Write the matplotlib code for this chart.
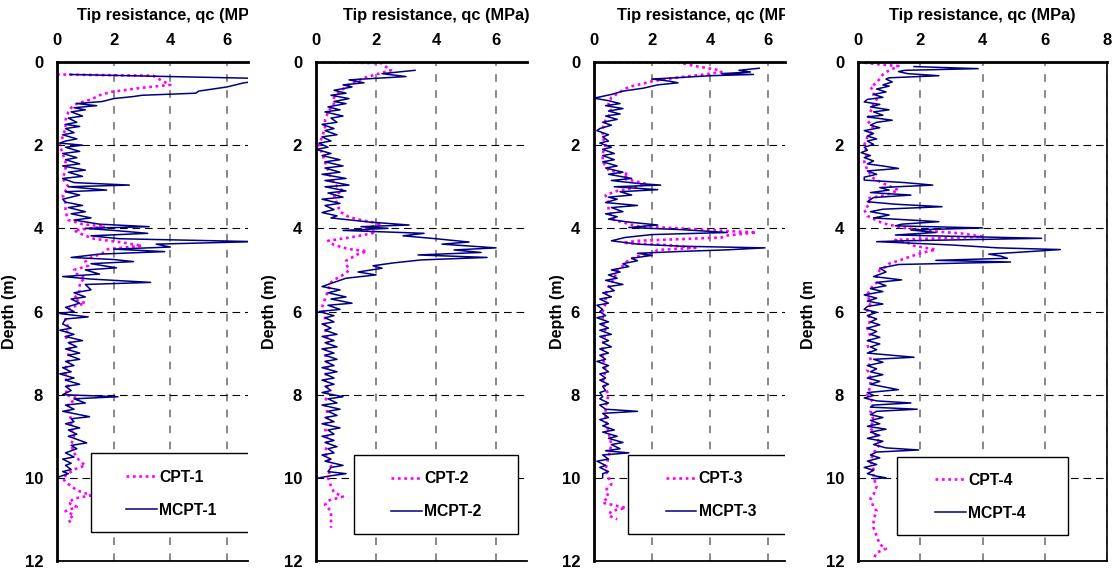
import numpy as np
import matplotlib
matplotlib.use("Agg")
import matplotlib.pyplot as plt
from matplotlib.patches import Rectangle
from matplotlib.transforms import Bbox, TransformedBbox, blended_transform_factory

plt.rcParams['font.family'] = ['Liberation Sans', 'DejaVu Sans']
plt.rcParams['font.weight'] = 'bold'
plt.rcParams['lines.scale_dashes'] = False

# ---- data (depth in m, tip resistance qc in MPa) ----
mcpt1_depth = [0.30, 0.40, 0.45, 0.50, 0.60, 0.70, 0.75, 0.80, 0.83, 0.88, 0.95, 1.00, 1.05, 1.10, 1.15, 1.20,
               1.30, 1.35, 1.45, 1.50, 1.55, 1.60, 1.70, 1.75, 1.85, 1.90, 1.95, 2.00, 2.05, 2.15, 2.20, 2.30,
               2.35, 2.45, 2.50, 2.60, 2.65, 2.75, 2.80, 2.90, 2.96, 3.00, 3.08, 3.12, 3.20, 3.30, 3.37, 3.45,
               3.50, 3.60, 3.65, 3.75, 3.80, 3.90, 3.96, 4.00, 4.05, 4.12, 4.18, 4.25, 4.32, 4.38, 4.45, 4.50,
               4.56, 4.62, 4.70, 4.75, 4.80, 4.85, 4.95, 5.00, 5.10, 5.16, 5.22, 5.30, 5.35, 5.48, 5.55, 5.65,
               5.70, 5.80, 5.90, 6.00, 6.05, 6.13, 6.18, 6.30, 6.40, 6.45, 6.55, 6.60, 6.70, 6.75, 6.85, 6.90,
               7.00, 7.05, 7.15, 7.20, 7.30, 7.35, 7.45, 7.50, 7.60, 7.65, 7.75, 7.80, 7.90, 8.00, 8.05, 8.10,
               8.20, 8.25, 8.35, 8.40, 8.53, 8.58, 8.65, 8.70, 8.80, 8.85, 8.95, 9.00, 9.10, 9.16, 9.22, 9.30,
               9.40, 9.50, 9.55, 9.65, 9.70, 9.80, 9.85, 9.90, 9.98]
mcpt1_qc = [0.45, 7.5, 7.2, 6.6, 6.0, 5.0, 4.9, 3.0, 2.7, 2.0, 1.6, 0.7, 1.4, 0.6, 1.0, 0.5,
            0.9, 0.4, 0.7, 0.3, 0.8, 0.3, 0.6, 0.2, 0.7, 0.3, 0.1, 0.9, 0.3, 0.8, 0.2, 0.7,
            0.3, 0.8, 0.2, 1.0, 0.4, 0.9, 0.2, 0.6, 2.55, 0.4, 1.75, 0.3, 0.8, 0.2, 0.3, 0.9,
            0.4, 1.0, 0.5, 1.2, 0.6, 1.5, 3.25, 1.0, 2.0, 3.2, 1.2, 2.2, 7.0, 3.5, 4.0, 2.0,
            3.8, 1.5, 0.5, 2.0, 2.7, 1.2, 2.1, 1.0, 1.5, 0.2, 1.2, 3.3, 1.0, 1.2, 0.6, 1.0,
            0.5, 0.8, 0.3, 0.6, 0.1, 1.1, 0.3, 0.2, 0.5, 0.1, 0.6, 0.3, 0.9, 0.4, 0.7, 0.3,
            0.8, 0.4, 0.8, 0.3, 0.6, 0.2, 0.5, 0.1, 0.6, 0.3, 0.8, 0.3, 0.5, 0.2, 2.15, 0.6,
            1.0, 0.3, 0.6, 0.2, 1.15, 0.5, 0.6, 0.3, 0.8, 0.4, 0.7, 0.4, 0.8, 1.05, 0.5, 0.7,
            0.3, 0.6, 0.2, 0.5, 0.3, 0.5, 0.2, 0.4, 0.05]

cpt1_depth = [0.30, 0.33, 0.45, 0.55, 0.62, 0.72, 0.80, 0.90, 1.00, 1.10, 1.20, 1.40, 1.60, 1.80, 2.00, 2.20,
              2.40, 2.60, 2.80, 3.00, 3.20, 3.40, 3.60, 3.80, 3.90, 3.96, 4.05, 4.15, 4.25, 4.35, 4.42, 4.50,
              4.60, 4.70, 4.80, 4.90, 5.00, 5.10, 5.20, 5.30, 5.50, 5.70, 5.80, 5.90, 6.00, 6.20, 6.40, 6.60,
              6.80, 7.00, 7.20, 7.40, 7.60, 7.80, 8.00, 8.10, 8.20, 8.40, 8.60, 8.80, 9.00, 9.20, 9.40, 9.60,
              9.70, 9.80, 9.90, 10.00, 10.10, 10.20, 10.30, 10.42, 10.50, 10.60, 10.70, 10.80, 10.90, 11.00,
              11.10]
cpt1_qc = [0.0, 3.4, 3.7, 4.0, 3.0, 1.9, 1.5, 1.2, 0.7, 0.5, 0.4, 0.3, 0.3, 0.2, 0.1, 0.2,
           0.3, 0.3, 0.2, 0.4, 0.2, 0.3, 0.3, 0.4, 0.9, 1.7, 0.6, 0.9, 1.3, 2.4, 3.0, 1.8,
           1.6, 1.2, 1.0, 1.1, 0.6, 0.7, 1.0, 0.8, 0.8, 0.6, 1.0, 0.5, 0.3, 0.3, 0.4, 0.3,
           0.5, 0.4, 0.4, 0.3, 0.3, 0.4, 0.3, 0.8, 0.4, 0.4, 0.5, 0.5, 0.6, 0.5, 0.6, 0.8,
           1.0, 0.6, 0.4, 0.2, 0.3, 0.5, 0.7, 1.2, 0.6, 0.4, 0.7, 0.3, 0.6, 0.4,
           0.5]

mcpt2_depth = [0.20, 0.28, 0.35, 0.43, 0.50, 0.55, 0.60, 0.68, 0.75, 0.80, 0.88, 0.95, 1.00, 1.08, 1.15, 1.20,
               1.30, 1.35, 1.45, 1.50, 1.60, 1.65, 1.75, 1.80, 1.90, 1.95, 2.05, 2.10, 2.20, 2.25, 2.35, 2.40,
               2.50, 2.55, 2.65, 2.70, 2.80, 2.85, 2.96, 3.00, 3.10, 3.15, 3.25, 3.30, 3.40, 3.45, 3.55, 3.62,
               3.70, 3.75, 3.85, 3.92, 3.96, 4.00, 4.05, 4.12, 4.18, 4.25, 4.33, 4.38, 4.47, 4.52, 4.58, 4.64,
               4.70, 4.76, 4.83, 4.90, 4.96, 5.05, 5.12, 5.20, 5.30, 5.40, 5.48, 5.55, 5.65, 5.70, 5.80, 5.85,
               5.95, 6.00, 6.10, 6.15, 6.25, 6.30, 6.40, 6.45, 6.55, 6.60, 6.70, 6.75, 6.85, 6.90, 7.00, 7.05,
               7.15, 7.20, 7.30, 7.35, 7.45, 7.50, 7.60, 7.65, 7.75, 7.80, 7.90, 7.95, 8.05, 8.10, 8.20, 8.25,
               8.35, 8.40, 8.50, 8.55, 8.65, 8.70, 8.80, 8.85, 8.95, 9.00, 9.10, 9.15, 9.25, 9.30, 9.40, 9.45,
               9.55, 9.60, 9.70, 9.75, 9.85, 9.90, 9.95, 10.00]
mcpt2_qc = [3.3, 2.2, 3.0, 1.1, 1.6, 0.9, 1.2, 0.6, 1.0, 0.5, 1.1, 0.6, 1.0, 0.4, 0.8, 0.3,
            0.9, 0.5, 0.7, 0.2, 0.6, 0.3, 0.7, 0.2, 0.5, 0.1, 0.4, 0.0, 0.5, 0.2, 0.8, 0.3,
            0.9, 0.3, 0.8, 0.2, 1.0, 0.3, 1.1, 0.3, 1.0, 0.4, 0.9, 0.2, 0.8, 0.3, 0.6, 0.2,
            0.7, 0.5, 1.8, 3.1, 1.5, 2.4, 0.9, 3.6, 2.9, 4.0, 5.1, 4.2, 6.0, 4.6, 5.5, 3.4,
            5.7, 3.5, 2.6, 1.9, 2.2, 1.4, 2.0, 1.0, 0.6, 0.2, 0.8, 0.4, 1.0, 0.5, 1.2, 0.4,
            0.8, 0.1, 0.6, 0.3, 0.6, 0.2, 0.5, 0.3, 0.7, 0.2, 0.6, 0.3, 0.7, 0.2, 0.6, 0.3,
            0.7, 0.3, 0.6, 0.2, 0.7, 0.3, 0.6, 0.2, 0.6, 0.3, 0.5, 0.2, 0.9, 0.4, 0.7, 0.2,
            0.8, 0.4, 0.7, 0.3, 0.6, 0.2, 0.8, 0.4, 0.6, 0.2, 0.6, 0.3, 0.7, 0.4, 0.6, 0.2,
            0.5, 0.3, 0.9, 0.5, 0.4, 1.0, 0.5, 0.1]

cpt2_depth = [0.00, 0.03, 0.10, 0.20, 0.30, 0.38, 0.45, 0.55, 0.70, 0.85, 1.00, 1.20, 1.40, 1.60, 1.80, 2.00,
              2.20, 2.40, 2.60, 2.80, 3.00, 3.10, 3.20, 3.40, 3.60, 3.73, 3.80, 3.90, 4.00, 4.10, 4.20, 4.30,
              4.40, 4.50, 4.55, 4.62, 4.70, 4.78, 4.85, 5.00, 5.08, 5.20, 5.30, 5.50, 5.70, 5.90, 6.10, 6.40,
              6.70, 7.00, 7.30, 7.60, 7.90, 8.20, 8.50, 8.80, 9.10, 9.40, 9.70, 10.00, 10.20, 10.35, 10.45,
              10.55, 10.65, 10.80, 11.00, 11.20]
cpt2_qc = [0.0, 2.2, 2.3, 2.5, 2.0, 1.6, 1.4, 1.1, 0.8, 0.6, 0.6, 0.4, 0.3, 0.3, 0.2, 0.1,
           0.2, 0.3, 0.4, 0.5, 0.7, 0.9, 0.6, 0.7, 0.8, 1.1, 1.5, 2.2, 1.6, 2.0, 1.3, 0.4,
           0.6, 1.1, 1.7, 1.4, 1.2, 1.0, 1.0, 1.1, 1.0, 0.7, 0.5, 0.4, 0.3, 0.2, 0.3, 0.3,
           0.4, 0.3, 0.4, 0.3, 0.4, 0.3, 0.4, 0.3, 0.4, 0.3, 0.5, 0.4, 0.5, 0.6, 0.9,
           0.4, 0.3, 0.5, 0.5, 0.5]

mcpt3_depth = [0.15, 0.20, 0.24, 0.28, 0.30, 0.33, 0.38, 0.41, 0.46, 0.50, 0.55, 0.63, 0.70, 0.78, 0.87, 0.93,
               1.00, 1.05, 1.12, 1.18, 1.25, 1.30, 1.38, 1.45, 1.52, 1.60, 1.65, 1.75, 1.80, 1.90, 1.95, 2.05,
               2.10, 2.20, 2.25, 2.35, 2.40, 2.50, 2.55, 2.65, 2.70, 2.80, 2.85, 2.92, 2.96, 3.00, 3.07, 3.12,
               3.20, 3.25, 3.30, 3.38, 3.45, 3.50, 3.60, 3.65, 3.72, 3.78, 3.85, 3.92, 3.98, 4.03, 4.10, 4.15,
               4.22, 4.30, 4.38, 4.43, 4.47, 4.52, 4.55, 4.60, 4.65, 4.72, 4.78, 4.85, 4.92, 5.00, 5.05, 5.12,
               5.20, 5.25, 5.35, 5.40, 5.50, 5.55, 5.65, 5.70, 5.80, 5.85, 5.95, 6.00, 6.10, 6.15, 6.25, 6.30,
               6.40, 6.45, 6.55, 6.60, 6.70, 6.75, 6.85, 6.90, 7.00, 7.05, 7.15, 7.20, 7.30, 7.35, 7.45, 7.50,
               7.60, 7.65, 7.75, 7.80, 7.90, 7.95, 8.05, 8.10, 8.20, 8.25, 8.35, 8.40, 8.45, 8.55, 8.60, 8.70,
               8.75, 8.85, 8.90, 9.00, 9.05, 9.15, 9.20, 9.30, 9.35, 9.40, 9.45, 9.55, 9.60, 9.70, 9.75, 9.85,
               9.90, 10.00]
mcpt3_qc = [5.7, 5.0, 5.4, 4.4, 5.5, 4.0, 2.8, 2.0, 2.6, 2.9, 2.2, 1.7, 1.0, 0.6, 0.0, 0.5,
            0.9, 0.4, 1.0, 0.5, 0.9, 0.4, 0.8, 0.3, 0.6, 0.2, 0.1, 0.5, 0.3, 0.5, 0.2, 0.6,
            0.3, 0.7, 0.3, 0.7, 0.3, 0.8, 0.4, 1.0, 0.5, 1.3, 0.6, 1.5, 2.3, 0.7, 2.2, 0.9,
            1.3, 0.5, 0.8, 0.4, 1.5, 0.6, 1.0, 0.4, 0.8, 0.5, 1.2, 2.2, 1.2, 3.0, 4.6, 2.0,
            1.07, 0.6, 1.5, 3.0, 5.9, 4.5, 3.2, 1.5, 2.0, 1.3, 1.5, 1.0, 1.2, 0.6, 0.9, 0.5,
            0.8, 0.4, 1.0, 0.5, 0.7, 0.3, 0.6, 0.2, 0.5, 0.1, 0.3, 0.2, 0.4, 0.1, 0.5, 0.2,
            0.5, 0.2, 0.6, 0.2, 0.5, 0.3, 0.6, 0.2, 0.5, 0.2, 0.4, 0.1, 0.5, 0.3, 0.5, 0.2,
            0.4, 0.2, 0.5, 0.3, 0.4, 0.2, 0.3, 0.2, 0.5, 0.2, 0.4, 1.5, 0.3, 0.5, 0.2, 0.5,
            0.3, 0.7, 0.3, 0.8, 0.5, 1.0, 0.6, 0.9, 0.4, 1.2, 0.3, 0.5, 0.1, 0.4, 0.2, 0.5,
            0.3, 0.3]

cpt3_depth = [0.00, 0.02, 0.10, 0.18, 0.24, 0.30, 0.38, 0.45, 0.50, 0.60, 0.72, 0.85, 1.00, 1.20, 1.40, 1.60,
              1.80, 2.00, 2.20, 2.40, 2.60, 2.70, 2.80, 2.93, 3.05, 3.10, 3.20, 3.40, 3.60, 3.80, 3.95, 4.00,
              4.05, 4.10, 4.17, 4.22, 4.30, 4.35, 4.40, 4.47, 4.52, 4.60, 4.65, 4.75, 4.90, 5.00, 5.20, 5.40,
              5.60, 5.80, 6.00, 6.20, 6.50, 6.80, 7.10, 7.40, 7.70, 8.00, 8.30, 8.60, 8.90, 9.20, 9.50, 9.80,
              10.00, 10.15, 10.30, 10.45, 10.60, 10.72, 10.80, 10.90, 11.00]
cpt3_qc = [0.0, 3.0, 3.5, 4.2, 4.4, 3.8, 2.8, 2.1, 1.8, 1.2, 0.9, 0.6, 0.5, 0.6, 0.4, 0.3,
           0.3, 0.4, 0.3, 0.3, 0.5, 1.2, 1.0, 1.8, 1.2, 0.8, 0.4, 0.5, 0.5, 0.7, 1.5, 2.9,
           4.2, 5.6, 4.6, 4.4, 1.5, 1.0, 2.5, 3.5, 2.2, 2.0, 1.6, 1.2, 1.0, 0.8, 0.7, 0.5,
           0.4, 0.4, 0.3, 0.3, 0.4, 0.3, 0.3, 0.4, 0.3, 0.5, 0.4, 0.4, 0.5, 0.6, 0.5, 0.4,
           0.5, 0.6, 0.4, 0.5, 0.3, 1.1, 0.6, 0.5, 0.8]

mcpt4_depth = [0.11, 0.16, 0.20, 0.23, 0.28, 0.33, 0.38, 0.41, 0.48, 0.55, 0.58, 0.65, 0.72, 0.78, 0.85, 0.90,
               0.96, 1.02, 1.08, 1.15, 1.20, 1.28, 1.32, 1.40, 1.45, 1.52, 1.58, 1.65, 1.72, 1.78, 1.85, 1.90,
               1.98, 2.05, 2.12, 2.18, 2.25, 2.30, 2.38, 2.45, 2.50, 2.56, 2.62, 2.70, 2.77, 2.84, 2.90, 2.96,
               3.02, 3.08, 3.14, 3.20, 3.26, 3.36, 3.42, 3.48, 3.54, 3.60, 3.68, 3.75, 3.84, 3.90, 3.94, 3.99,
               4.04, 4.10, 4.16, 4.24, 4.30, 4.32, 4.40, 4.47, 4.51, 4.56, 4.62, 4.67, 4.72, 4.77, 4.81, 4.87,
               4.96, 5.05, 5.16, 5.24, 5.30, 5.38, 5.45, 5.52, 5.60, 5.68, 5.75, 5.82, 5.88, 5.95, 6.02, 6.10,
               6.18, 6.25, 6.32, 6.40, 6.48, 6.55, 6.62, 6.70, 6.78, 6.85, 6.92, 7.00, 7.10, 7.15, 7.22, 7.30,
               7.38, 7.45, 7.52, 7.60, 7.68, 7.75, 7.88, 7.95, 8.02, 8.08, 8.15, 8.20, 8.25, 8.30, 8.35, 8.40,
               8.48, 8.55, 8.62, 8.70, 8.76, 8.83, 8.90, 8.98, 9.05, 9.12, 9.20, 9.28, 9.33, 9.38, 9.45, 9.52,
               9.60, 9.68, 9.75, 9.82, 9.90, 9.96, 10.00, 10.02]
mcpt4_qc = [1.8, 3.86, 1.5, 1.3, 1.6, 2.6, 1.0, 0.9, 1.1, 0.8, 1.0, 0.6, 0.9, 0.5, 0.8, 0.3,
            0.2, 0.7, 0.4, 1.0, 0.5, 0.8, 0.3, 1.1, 0.6, 0.4, 0.7, 0.2, 0.5, 0.3, 0.6, 0.3,
            0.5, 0.2, 0.3, 0.1, 0.4, 0.2, 0.5, 0.3, 0.8, 1.3, 0.3, 0.6, 0.2, 0.2, 1.5, 2.4,
            0.7, 1.0, 0.4, 1.7, 0.5, 0.3, 1.2, 2.7, 0.8, 0.4, 1.0, 0.5, 2.6, 1.4, 1.2, 4.0,
            1.7, 2.5, 1.2, 5.9, 1.5, 0.6, 3.0, 4.5, 6.5, 5.5, 4.2, 4.6, 4.8, 2.5, 4.9, 1.3,
            0.7, 0.9, 0.5, 1.4, 0.6, 0.9, 0.4, 0.8, 0.2, 0.6, 0.3, 0.8, 0.3, 0.2, 0.6, 0.3,
            0.6, 0.4, 0.7, 0.3, 0.6, 0.4, 0.7, 0.3, 0.7, 0.4, 0.6, 0.3, 1.8, 0.5, 0.8, 0.3,
            0.6, 0.4, 0.8, 0.3, 0.7, 0.4, 1.3, 0.3, 0.5, 0.2, 0.6, 1.7, 0.5, 0.4, 1.9, 0.6,
            0.4, 0.8, 0.4, 0.7, 0.3, 0.9, 0.4, 0.7, 0.3, 0.8, 0.5, 0.9, 1.95, 0.6, 0.4, 0.7,
            0.3, 0.6, 0.2, 0.5, 0.3, 0.6, 0.9, 0.5]

cpt4_depth = [0.00, 0.05, 0.10, 0.20, 0.30, 0.40, 0.50, 0.60, 0.70, 0.80, 0.90, 1.00, 1.20, 1.40, 1.60, 1.80,
              2.00, 2.20, 2.40, 2.60, 2.80, 2.95, 3.08, 3.20, 3.28, 3.40, 3.55, 3.70, 3.88, 3.99, 4.06, 4.12,
              4.20, 4.28, 4.35, 4.42, 4.51, 4.60, 4.70, 4.78, 4.85, 4.92, 5.00, 5.15, 5.30, 5.45, 5.60, 5.80,
              6.00, 6.20, 6.40, 6.60, 6.80, 7.00, 7.20, 7.40, 7.60, 7.80, 8.00, 8.20, 8.40, 8.60, 8.80, 9.00,
              9.20, 9.40, 9.60, 9.80, 10.00, 10.20, 10.40, 10.50, 10.70, 10.80, 11.00, 11.20, 11.40, 11.60,
              11.70, 11.80, 11.95]
cpt4_qc = [0.0, 0.6, 1.3, 1.0, 0.8, 0.7, 0.6, 0.4, 0.5, 0.5, 0.6, 0.5, 0.4, 0.3, 0.5, 0.3,
           0.2, 0.3, 0.2, 0.3, 0.5, 0.9, 1.3, 0.9, 0.3, 0.4, 0.2, 0.3, 0.8, 1.5, 2.2, 3.3,
           4.0, 1.2, 1.6, 1.8, 2.5, 2.0, 1.6, 1.3, 1.0, 0.9, 0.7, 0.6, 0.6, 0.4, 0.3, 0.4,
           0.3, 0.4, 0.3, 0.4, 0.3, 0.4, 0.4, 0.3, 0.4, 0.4, 0.3, 0.5, 0.4, 0.5, 0.4, 0.6,
           0.7, 0.5, 0.4, 0.5, 0.5, 0.6, 0.5, 0.4, 0.5, 0.6, 0.5, 0.5, 0.6, 0.7,
           0.9, 0.6, 0.5]

cpt_labels = ['CPT-1', 'CPT-2', 'CPT-3', 'CPT-4']
mcpt_labels = ['MCPT-1', 'MCPT-2', 'MCPT-3', 'MCPT-4']
cpt_data = [(cpt1_depth, cpt1_qc), (cpt2_depth, cpt2_qc), (cpt3_depth, cpt3_qc), (cpt4_depth, cpt4_qc)]
mcpt_data = [(mcpt1_depth, mcpt1_qc), (mcpt2_depth, mcpt2_qc), (mcpt3_depth, mcpt3_qc), (mcpt4_depth, mcpt4_qc)]

# ---- layout (panels 1 and 3 are cropped on the right, like the scanned figure) ----
W, H = 1115, 575
panel_left = [57, 316, 594, 858]
panel_width = [191, 211, 191, 249]
panel_xmax = [6.74, 7.03, 6.59, 8.0]
panel_cropped = [True, False, True, False]
panel_top, panel_bottom = 62, 561
ylabel_x = [-0.209, -0.185, -0.152, -0.169]
legend_box = [(1.2, 9.4, 6.04, 1.9), (1.27, 9.45, 5.46, 1.9), (1.17, 9.45, 5.9, 1.9), (1.25, 9.5, 5.5, 1.87)]
legend_anchor = [(2.44, 10.38), (2.5, 10.42), (2.48, 10.42), (2.48, 10.45)]

fig = plt.figure(figsize=(W / 100, H / 100), dpi=100)

for i in range(4):
    ax = fig.add_axes([panel_left[i] / W, 1 - panel_bottom / H,
                       panel_width[i] / W, (panel_bottom - panel_top) / H])

    ax.plot(cpt_data[i][1], cpt_data[i][0], color='#FF00FF', lw=1.9,
            linestyle=(0, (2.0, 2.6)), label=cpt_labels[i], zorder=2)
    ax.plot(mcpt_data[i][1], mcpt_data[i][0], color='#000080', lw=1.1,
            label=mcpt_labels[i], zorder=2.5)

    ax.set_xlim(0, panel_xmax[i])
    ax.set_ylim(12, 0)
    ax.set_xticks([0, 2, 4, 6, 8] if i == 3 else [0, 2, 4, 6])
    ax.set_yticks([0, 2, 4, 6, 8, 10, 12])
    ax.xaxis.tick_top()
    ax.tick_params(axis='x', length=0, pad=10, labelsize=12)
    ax.tick_params(axis='y', length=0, pad=10, labelsize=12)
    for lab in ax.get_xticklabels() + ax.get_yticklabels():
        lab.set_fontweight('bold')

    ax.grid(axis='x', color='#7f7f7f', linestyle=(0, (5.5, 6.0)), linewidth=1.3)
    ax.grid(axis='y', color='black', linestyle=(0, (5.5, 3.5)), linewidth=0.8)
    ax.set_axisbelow(True)

    ax.spines['top'].set_linewidth(2.0)
    ax.spines['left'].set_linewidth(2.0)
    ax.spines['bottom'].set_linewidth(1.3)
    if i == 3:
        ax.spines['right'].set_linewidth(1.2)
    else:
        ax.spines['right'].set_visible(False)

    # x axis title, centred on the full 0-8 axis (cut where the panel is cropped)
    trans = blended_transform_factory(ax.transData, ax.transAxes)
    ttl = ax.text(4, 1.094, 'Tip resistance, qc (MPa)', transform=trans, ha='center', va='center',
                  fontsize=11.8, fontweight='bold', clip_on=panel_cropped[i])
    if panel_cropped[i]:
        right = (panel_left[i] + panel_width[i]) / W
        ttl.set_clip_box(TransformedBbox(Bbox([[0, 0], [right, 1]]), fig.transFigure))

    ax.set_ylabel('Depth (m)', fontsize=11.5, fontweight='bold')
    ax.yaxis.set_label_coords(ylabel_x[i], 0.5)
    if i == 3:
        ax.yaxis.label.set_clip_on(True)
        ax.yaxis.label.set_clip_box(TransformedBbox(Bbox([[0, 0], [1, 1 - 282 / H]]), fig.transFigure))

    bx, by, bw, bh = legend_box[i]
    ax.add_patch(Rectangle((bx, by), bw, bh, facecolor='white', edgecolor='black',
                           lw=1.0, zorder=3, clip_on=True))
    leg = ax.legend(loc='center left', bbox_to_anchor=legend_anchor[i], bbox_transform=ax.transData,
                    frameon=False, borderpad=0, borderaxespad=0, handlelength=1.95,
                    handletextpad=0.15, labelspacing=1.15, prop={'size': 11.3, 'weight': 'bold'})
    leg.set_zorder(5)

    ax.set_xlim(0, panel_xmax[i])
    ax.set_ylim(12, 0)

fig.savefig('out.png', dpi=100)
